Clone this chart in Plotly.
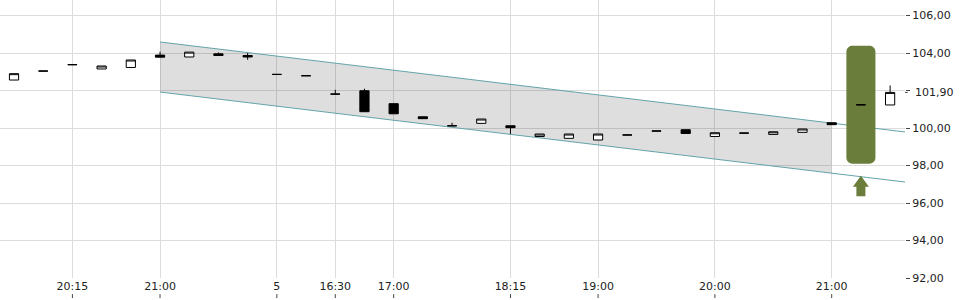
import numpy as np
import plotly.graph_objects as go

# ---- data ----
idx = list(range(31))
open_ = [102.56, 103.04, 103.38, 103.15, 103.23, 103.89, 103.79, 103.96, 103.87, 102.86,
         102.79, 101.81, 101.99, 101.30, 100.60, 100.12, 100.25, 100.12, 99.55, 99.45,
         99.36, 99.63, 99.84, 99.91, 99.55, 99.73, 99.66, 99.77, 100.28, 101.24, 101.23]
high = [102.90, 103.04, 103.38, 103.31, 103.63, 104.07, 104.05, 104.03, 104.00, 102.86,
        102.79, 102.04, 102.10, 101.30, 100.60, 100.28, 100.48, 100.12, 99.68, 99.68,
        99.68, 99.63, 99.84, 99.91, 99.75, 99.73, 99.80, 99.95, 100.28, 101.24, 102.27]
low = [102.56, 103.04, 103.38, 103.15, 103.23, 103.78, 103.79, 103.87, 103.64, 102.86,
       102.79, 101.81, 100.87, 100.76, 100.50, 100.12, 100.25, 99.68, 99.55, 99.45,
       99.36, 99.63, 99.84, 99.71, 99.55, 99.73, 99.66, 99.77, 100.18, 101.24, 101.23]
close = [102.90, 103.04, 103.38, 103.31, 103.63, 103.78, 104.05, 103.87, 103.79, 102.86,
         102.79, 101.81, 100.87, 100.76, 100.50, 100.12, 100.48, 100.02, 99.68, 99.68,
         99.68, 99.63, 99.84, 99.71, 99.75, 99.73, 99.80, 99.95, 100.18, 101.24, 101.90]

x_tick_idx = [2, 5, 9, 11, 13, 17, 20, 24, 28]
x_tick_text = ["20:15", "21:00", "5", "16:30", "17:00", "18:15", "19:00", "20:00", "21:00"]

y_tick_vals = [92, 94, 96, 98, 100, 102, 104, 106]
y_tick_text = ["92,00", "94,00", "96,00", "98,00", "100,00", "", "104,00", "106,00"]
last_price = 101.90
last_price_text = "101,90"

# trend channel
channel_x = [5, 30.51]
channel_upper = [104.59, 99.79]
channel_lower = [101.92, 97.12]
shade_end = 28

# signal box (index, low, high) and arrow
signal_idx = 29
signal_low = 98.10
signal_high = 104.39
arrow_top = 97.46
arrow_neck = 96.87
arrow_bottom = 96.36

X_RANGE = [-0.48, 30.51]
Y_RANGE = [92, 106.83]

GREEN = "rgb(106,125,58)"
TEAL = "#63a4aa"
FONT = "DejaVu Sans"


def path_from(xs, ys):
    pts = [f"{x:.4f},{y:.4f}" for x, y in zip(xs, ys)]
    return "M " + " L ".join(pts) + " Z"


fig = go.Figure()

# shaded channel
su1 = float(np.interp(shade_end, channel_x, channel_upper))
sl1 = float(np.interp(shade_end, channel_x, channel_lower))
fig.add_shape(type="path", xref="x", yref="y", layer="between",
              path=path_from([channel_x[0], shade_end, shade_end, channel_x[0]],
                             [channel_upper[0], su1, sl1, channel_lower[0]]),
              fillcolor="rgba(0,0,0,0.13)", line=dict(width=0))

# channel lines
for ys in (channel_upper, channel_lower):
    fig.add_shape(type="line", xref="x", yref="y", layer="between",
                  x0=channel_x[0], x1=channel_x[1], y0=ys[0], y1=ys[1],
                  line=dict(color=TEAL, width=1))

# rounded signal box
hw = 0.497
rx, ry = 6 / 29.2, 6 / 18.75
x0, x1 = signal_idx - hw, signal_idx + hw
y0, y1 = signal_low, signal_high
px, py = [], []
corners = [(x1 - rx, y1 - ry, 0), (x0 + rx, y1 - ry, 90), (x0 + rx, y0 + ry, 180), (x1 - rx, y0 + ry, 270)]
for cx, cy, a0 in corners:
    t = np.radians(np.linspace(a0, a0 + 90, 10))
    px += list(cx + rx * np.cos(t))
    py += list(cy + ry * np.sin(t))
fig.add_shape(type="path", xref="x", yref="y", layer="between",
              path=path_from(px, py), fillcolor=GREEN, line=dict(width=0))

# arrow
hh = 8 / 29.2
sh = 4.5 / 29.2
ax = [signal_idx, signal_idx + hh, signal_idx + sh, signal_idx + sh, signal_idx - sh,
      signal_idx - sh, signal_idx - hh]
ay = [arrow_top, arrow_neck, arrow_neck, arrow_bottom, arrow_bottom, arrow_neck, arrow_neck]
fig.add_shape(type="path", xref="x", yref="y", layer="between",
              path=path_from(ax, ay), fillcolor=GREEN, line=dict(width=0))

# candles
fig.add_trace(go.Candlestick(
    x=idx, open=open_, high=high, low=low, close=close,
    increasing=dict(line=dict(color="black", width=1), fillcolor="white"),
    decreasing=dict(line=dict(color="black", width=1), fillcolor="black"),
    whiskerwidth=0, showlegend=False, hoverinfo="skip"))

# x tick marks below labels
for t in x_tick_idx:
    fig.add_shape(type="line", xref="x", yref="paper", x0=t, x1=t, y0=-0.058, y1=-0.072,
                  line=dict(color="#444", width=1))

fig.add_annotation(x=1, xref="paper", y=last_price, yref="y", text=last_price_text,
                   showarrow=False, xanchor="left", xshift=8,
                   font=dict(family=FONT, size=11, color="#222"))
fig.add_shape(type="line", xref="paper", yref="y", x0=1.0, x1=1.003, y0=last_price, y1=last_price,
              line=dict(color="#444", width=1))

fig.update_layout(
    width=960, height=300,
    margin=dict(l=0, r=55, t=0, b=22),
    paper_bgcolor="white", plot_bgcolor="white",
    boxgap=0.55,
    font=dict(family=FONT, size=11, color="#222"),
    xaxis=dict(range=X_RANGE, tickmode="array", tickvals=x_tick_idx, ticktext=x_tick_text,
               showgrid=True, gridcolor="#dcdcdc", gridwidth=1, zeroline=False,
               showline=False, ticks="", rangeslider=dict(visible=False),
               tickfont=dict(family=FONT, size=11, color="#222")),
    yaxis=dict(range=Y_RANGE, side="right", tickmode="array", tickvals=y_tick_vals,
               ticktext=y_tick_text, showgrid=True, gridcolor="#dcdcdc", gridwidth=1,
               zeroline=False, showline=False, ticks="outside", ticklen=4,
               tickcolor="#444", tickfont=dict(family=FONT, size=11, color="#222")),
)

fig.write_html("out.html")
